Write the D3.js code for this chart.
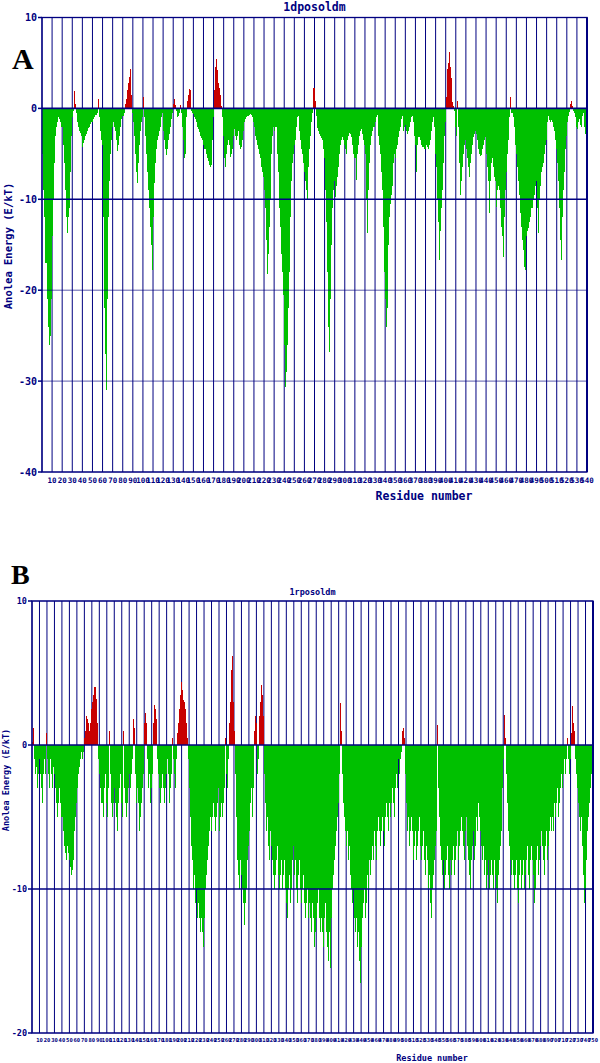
<!DOCTYPE html>
<html><head><meta charset="utf-8">
<script src="https://cdn.jsdelivr.net/npm/d3@7/dist/d3.min.js"></script>
<style>body{margin:0;background:#fff}svg{display:block}</style>
</head><body>
<svg id="c" width="600" height="1063"></svg>
<script>
// ---------- DATA ----------
const titleA = "1dposoldm";
const titleB = "1rposoldm";
const yTicksA = [10, 0, -10, -20, -30, -40];
const yTicksB = [10, 0, -10, -20];
const xTicksA = [10,20,30,40,50,60,70,80,90,100,110,120,130,140,150,160,170,180,190,200,210,220,230,240,250,260,270,280,290,300,310,320,330,340,350,360,370,380,390,400,410,420,430,440,450,460,470,480,490,500,510,520,530,540];
const xTicksB = [10,20,30,40,50,60,70,80,90,100,110,120,130,140,150,160,170,180,190,200,210,220,230,240,250,260,270,280,290,300,310,320,330,340,350,360,370,380,390,400,410,420,430,440,450,460,470,480,490,500,510,520,530,540,550,560,570,580,590,600,610,620,630,640,650,660,670,680,690,700,710,720,730,740,750];
const energyA = [
-5,-9,-12,-17,-17,-21,-24,-26,-25,-21,
-14,-10,-6,-3,-2,-1.5,-1,-1.2,-1.5,-2,
-2,-4,-6,-9,-12,-13.7,-12,-11,-7,-3,
-1,-0.3,1.9,0.5,-0.5,-1.5,-2,-2.5,-2.7,-3,
-4.2,-3.8,-3.5,-3,-2.8,-2.5,-2.2,-2,-1.7,-1.5,
-1.5,-1.2,-1,-0.7,-0.5,1,-1,-2.5,-3.5,-4,
-12,-22,-27,-31,-21,-12,-8,-5,-3.5,-2,
-1.5,-2,-2.5,-3.5,-4.7,-4,-3,-2,-1.2,-0.8,
-0.8,-0.5,0.5,1,2,2.8,3.5,4.3,1.5,-0.5,
-1.5,-3,-5,-7,-8.2,-6,-4,-2.5,-1.5,-1,
1.3,-1,-3,-5,-7,-9,-11,-13,-15,-17.8,
-12,-8.2,-6,-4.5,-3.5,-3,-2.5,-2,-1,-0.5,
-2.5,-3.5,-4.5,-5.1,-4.5,-3.5,-2.8,-2,-1.2,-0.5,
0.5,1,0.4,-0.3,-1,-0.8,-0.5,0.4,-0.5,-2,
-3.5,-5.5,-5,-1,0.8,1.5,2.1,2,-0.3,-0.5,
-0.6,-1,-1.2,-1.5,-2,-2.3,-2.6,-3,-3.3,-3.5,
-4,-4.5,-5,-5.5,-5.8,-6.2,-6.5,-6.2,-3.5,-1,
2,4.5,5.4,4.2,2.8,2.2,1.5,0.3,-1,-3,
-5.5,-6.4,-5,-4,-3.5,-4,-5.3,-5,-4.5,-3,
-2.3,-3,-3.5,-3,-2.5,-4,-4.5,-4.2,-3.5,-2.5,
-1.5,-1.2,-1,-0.8,-0.8,-0.7,-0.6,-0.7,-1,-1.5,
-2,-3,-3.5,-4,-4.5,-5,-5.5,-6.5,-7,-7.5,
-9,-11,-14.5,-18.2,-16,-13,-10,-5,-3,-2,
-2.5,-2,-2,-5,-7,-11,-13,-16,-18,-20.5,
-26,-30.7,-29,-26,-22,-18,-12,-8,-6,-5,
-4,-3.5,-2,-1,-0.8,-2.5,-3.5,-4.5,-5,-6,
-7,-8,-9,-10,-6.5,-4.5,-3,-1.5,-0.5,2.2,
0.8,-0.8,-2.2,-2.5,-2.8,-3,-3.3,-3.5,-4.5,-5.5,
-9,-12.5,-18,-24,-26.8,-21,-15,-11,-9,-8,
-9.7,-8.5,-7.5,-6.5,-5,-4,-3.5,-3.2,-3.5,-4,
-4.5,-5,-3.5,-3,-2.7,-2.8,-3.2,-4,-5,-5.5,
-5.5,-7.9,-5,-4,-3,-2.5,-2.3,-2.8,-3.5,-4,
-5,-10,-13.7,-9,-6,-4,-3,-2.5,-2,-2,
-1.5,-1,-0.7,-3,-4,-5,-7,-9,-13,-18,
-21,-24,-22,-15,-12,-10.5,-9.5,-8.5,-6,-5,
-5.5,-4.5,-4,-3.2,-2.5,-2,-1.2,-0.8,-2.5,-2,
-1.8,-2.5,-2.8,-2.5,-2,-1.5,-1,-0.8,-1.5,-3,
-4,-7,-4,-3.2,-3.2,-3.5,-4,-4.2,-4.5,-4.5,
-4,-4.3,-4.5,-4,-3.5,-2.5,-1.5,-1,-2,-5,
-6.5,-10,-12.5,-16.7,-13.5,-11,-9,-6,-3,-1.5,
1.2,4.3,5,6.2,4.5,3.3,0.7,0.3,-0.3,-2,
-3,0.8,-2,-6,-9.5,-8,-6.5,-5,-4,-3.5,
-4.5,-5.5,-6.5,-7.5,-6,-5,-4,-3.2,-2.8,-2.5,
-2.8,-3.5,-4.5,-5,-5.2,-5.1,-4.5,-4,-3.5,-3.2,
-5,-6.5,-8,-11.5,-8,-6,-5.5,-6.5,-7.5,-8,
-10.8,-9,-8.5,-9,-11,-13,-14,-16.3,-12,-9,
-7,-5,-3.5,-1,1.2,-0.5,-0.5,-1,-2,-4,
-5,-6.5,-8,-9.5,-11.5,-13,-14.5,-15.6,-17.4,-17.8,
-14,-13.5,-13.2,-12.5,-12,-11,-10,-9.5,-8.5,-8,
-11,-13.7,-10,-8.5,-7,-6.5,-6,-5,-4,-3.5,
-1.5,-0.8,-1.3,-1.5,-1.3,-1.5,-2,-2.5,-3.5,-4.5,
-6,-8,-11,-14.5,-16.7,-12,-9,-7,-4.5,-3,
-1.5,-0.8,-0.4,0.5,0.8,0.3,-0.3,-0.5,-1,-2,
-2.3,-1.5,-1.2,-1.8,-2,-0.8,-0.5,-2,-2.8,-3
];
const energyB = [
0.2,1.2,-1,-2,-1.5,-3,-2,-1,-2,-3,
-4,-2,-1,-2,0.8,-1,-2,-3,-1,-2,
-3,-1.5,-2,-3,-4,-5,-4,-3,-4,-5,
-5,-6,-7,-7.5,-8,-7,-7.5,-8,-8.5,-9,
-8.7,-8,-6,-5,-4,-3,-2,-1.5,-1,-0.5,
-1,-0.5,0.5,1,2,1.8,1.5,1,1.5,2.5,
3,3.5,4,4,3.2,1.5,-1,-2,-3,-4,
-4,-5,-3,-2,-4,-5,-3,1,-2,-4,
-5,-4,-3,-4,-5,-6,-4,-3,-2,-4,
-5,1,-3,-4,-5,-4,-3,-2,-3,-2,
-1,1.8,1.2,-2,-4,-3,-4,-6,-5,-4,
-3,-2,1.5,2.2,1.5,-1,-3,-2,-4,-3,
-2,1.5,2.8,2.5,1.8,-1,-2,-3,-4,-3,
-2,-3,-4,-3,-2,-1,-2,-4,-3,-2,
0.5,-1,-2,-3,-1,0.8,1.5,2.5,3.5,4.4,
3.8,3.1,3,2.5,1.5,0.5,-1,-3,-5,-7,
-8,-10,-9,-11,-10,-12,-11,-12,-13,-12,
-13,-14,-12,-10,-9,-8,-7,-6,-5,-6,
-5,-4,-5,-6,-5,-4,-3,-6,-5,-4,
-5,-4,-3,0.5,-2,-3,-1,1.5,3,5.2,
6.2,3,1,-2,-5,-8,-9,-10,-8,-9,
-10,-11,-12.5,-11,-10,-8,-7,-6,-4,-3,
-5,-3,1,2,1.5,-2,-1,2,3,4.2,
3.5,2,-2,-4,-6,-5,-7,-8,-6,-7,
-8,-9,-10,-9,-8,-7,-9,-10,-9,-8,
-10,-9,-8,-10,-11,-12,-10,-9,-11,-10,
-8,-7,-9,-8,-10,-11,-9,-8,-10,-11,
-10,-9,-11,-12,-11,-10,-12,-11,-12,-13,
-11,-12,-14,-13,-12,-11,-10,-12,-13,-12,
-13,-14,-12,-11,-13,-14,-15,-13,-15.5,-12,
-10,-9,-8,-7,-6,-5,-4,-2,2.9,1,
-2,-4,-5,-6,-7,-6,-8,-7,-9,-10,
-11,-10,-12,-13,-12,-14,-13,-15,-16.5,-14,
-12,-11,-10,-12,-11,-9,-10,-8,-9,-8,
-7,-8,-6,-7,-8,-6,-5,-6,-7,-6,
-5,-6,-7,-5,-4,-5,-6,-4,-5,-4,
-3,-4,-5,-3,-2,-3,-1,-2,-1,-0.5,
1,1.2,0.5,-2,-4,-6,-5,-7,-6,-5,
-6,-8,-7,-6,-8,-7,-6,-5,-7,-8,
-7,-6,-8,-9,-7,-8,-10,-9,-11,-12,
-10,-9,-8,-7,-6,1.4,-3,-5,-7,-8,
-9,-8,-10,-9,-8,-7,-9,-10,-8,-9,
-8,-7,-9,-8,-7,-6,-8,-7,-6,-5,
-6,-7,-8,-6,-5,-7,-8,-9,-10,-8,
-7,-6,-8,-7,-5,-6,-4,-5,-6,-7,
-8,-7,-9,-8,-10,-9,-8,-10,-9,-8,
-9,-10,-8,-9,-10,-11,-9,-8,-7,-6,
-3,-1,2.1,0.5,-2,-4,-6,-7,-8,-9,
-8,-9,-10,-9,-8,-10,-11,-9,-8,-10,
-9,-8,-10,-9,-8,-7,-9,-10,-8,-7,
-8,-9,-11,-10,-8,-7,-9,-8,-7,-6,
-7,-8,-9,-7,-6,-8,-7,-6,-5,-6,
-5,-6,-4,-5,-4,-3,-5,-4,-3,-2,
-3,-2,-1,-2,-1,0.5,-1,-2,-1,0.8,
2.7,1.5,1,-1,-2,-3,-4,-5,-6,-5,
-7,-9,-11,-10,-8,-6,-5,-4,-3,-2,
-3
];

// ---------- DRAW ----------
const svg = d3.select("#c");
const NAVY = "#000080";
const GREEN = "#00c000";
const RED = "#c80000";
const MONO = "'DejaVu Sans Mono', monospace";

function panel(o) {
  const g = svg.append("g");
  // bar scale: one slot per residue value
  const x = d3.scaleLinear().domain([0, o.data.length]).range([o.left, o.right]);
  // grid / label scale: one grid line per tick label, evenly spaced
  const gx = d3.scalePoint().domain([0].concat(o.xTicks)).range([o.left, o.right]);
  const y = d3.scaleLinear().domain([o.yTicks[o.yTicks.length - 1], o.yTicks[0]]).range([o.bottom, o.top]);

  // vertical grid (under bars)
  g.append("g").selectAll("line").data(gx.domain()).join("line")
    .attr("x1", d => gx(d)).attr("x2", d => gx(d))
    .attr("y1", o.top).attr("y2", o.bottom)
    .attr("stroke", NAVY).attr("stroke-width", 1);

  // bars
  g.append("g").attr("shape-rendering", "crispEdges")
    .selectAll("rect").data(o.data).join("rect")
    .attr("x", (d, i) => x(i))
    .attr("width", (d, i) => x(i + 1) - x(i))
    .attr("y", d => y(Math.max(0, d)))
    .attr("height", d => Math.abs(y(d) - y(0)))
    .attr("fill", d => d < 0 ? GREEN : RED);

  // horizontal grid over bars
  g.append("g").selectAll("line").data(o.yTicks).join("line")
    .attr("x1", o.left).attr("x2", o.right)
    .attr("y1", d => y(d)).attr("y2", d => y(d))
    .attr("stroke", NAVY).attr("stroke-width", d => (d === 0 || d === -10) ? 1.6 : 0.8)
    .attr("opacity", d => (d === 0 || d === -10) ? 1 : 0.8);

  // frame
  g.append("rect").attr("x", o.left).attr("y", o.top)
    .attr("width", o.right - o.left).attr("height", o.bottom - o.top)
    .attr("fill", "none").attr("stroke", NAVY).attr("stroke-width", 1.3);
  g.append("line").attr("x1", o.right).attr("x2", o.right).attr("y1", o.top).attr("y2", o.bottom)
    .attr("stroke", NAVY).attr("stroke-width", 2);

  // y ticks
  g.append("g").selectAll("line").data(o.yTicks).join("line")
    .attr("x1", o.left - 4).attr("x2", o.left)
    .attr("y1", d => y(d)).attr("y2", d => y(d))
    .attr("stroke", NAVY).attr("stroke-width", 1.5);
  g.append("g").selectAll("text").data(o.yTicks).join("text")
    .attr("x", o.left - 5).attr("y", d => y(d))
    .attr("dy", "0.35em").attr("text-anchor", "end")
    .attr("font-family", MONO).attr("font-weight", "bold")
    .attr("font-size", o.yFont).attr("fill", NAVY)
    .text(d => d);

  // x tick labels
  g.append("g").selectAll("text").data(o.xTicks).join("text")
    .attr("x", d => gx(d)).attr("y", o.bottom + o.xLabOff)
    .attr("text-anchor", "middle")
    .attr("font-family", MONO).attr("font-size", o.xFont).attr("fill", NAVY)
    .attr("font-weight", "bold")
    .text(d => d);

  // titles
  g.append("text").attr("x", (o.left + o.right) / 2).attr("y", o.titleY)
    .attr("text-anchor", "middle").attr("font-family", MONO).attr("font-weight", "bold")
    .attr("font-size", o.titleFont).attr("fill", NAVY).text(o.title);
  g.append("text").attr("x", o.xTitleX).attr("y", o.xTitleY)
    .attr("text-anchor", "middle").attr("font-family", MONO).attr("font-weight", "bold")
    .attr("font-size", o.titleFont).attr("fill", NAVY).text("Residue number");
  g.append("text").attr("transform", `translate(${o.yTitleX},${o.yTitleY}) rotate(-90)`)
    .attr("text-anchor", "middle").attr("font-family", MONO).attr("font-weight", "bold")
    .attr("font-size", o.yTitleFont).attr("fill", NAVY).text("Anolea Energy (E/kT)");
  // panel letter
  g.append("text").attr("x", o.letterX).attr("y", o.letterY)
    .attr("font-family", "'Liberation Serif', serif").attr("font-weight", "bold")
    .attr("font-size", o.letterFont).attr("fill", "#000").text(o.letter);
}

panel({
  data: energyA, left: 42, right: 587, top: 17.5, bottom: 472,
  yTicks: yTicksA, xTicks: xTicksA,
  yFont: 10, xFont: 7.5, xLabOff: 11, title: titleA, titleY: 11, titleFont: 11.5,
  xTitleX: 424, xTitleY: 500, yTitleX: 12, yTitleY: 246, yTitleFont: 10.5,
  letter: "A", letterX: 12, letterY: 69, letterFont: 30
});
panel({
  data: energyB, left: 32, right: 593, top: 601, bottom: 1033,
  yTicks: yTicksB, xTicks: xTicksB,
  yFont: 8.5, xFont: 5.5, xLabOff: 9, title: titleB, titleY: 595, titleFont: 8.5,
  xTitleX: 432, xTitleY: 1061, yTitleX: 9, yTitleY: 780, yTitleFont: 8.5,
  letter: "B", letterX: 11, letterY: 584, letterFont: 28
});
</script>
</body></html>
